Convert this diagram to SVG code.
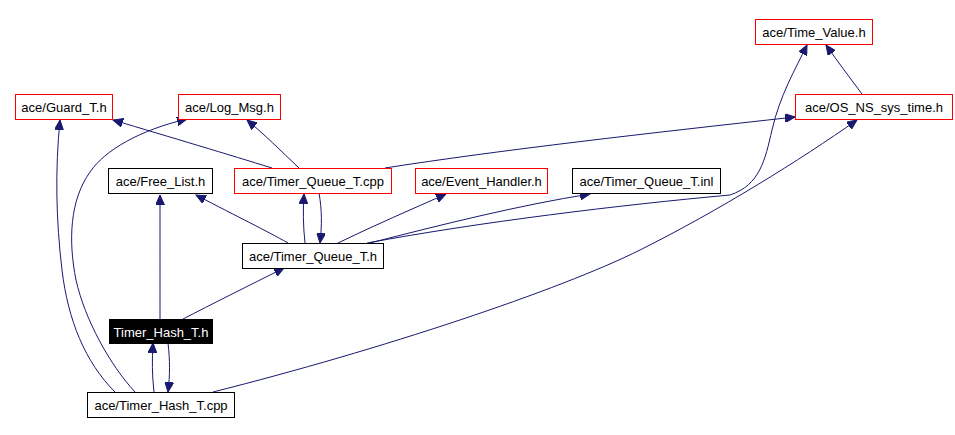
<svg xmlns="http://www.w3.org/2000/svg" width="955" height="435" viewBox="0 0 955 435">
<style>
.n rect{fill:#fff;stroke:#000;stroke-width:1}
.n.r rect{stroke:#f00}
.n text{font-family:"Liberation Sans",Arial,sans-serif;font-size:13px;text-anchor:middle;fill:#000}
.n.cur rect{fill:#000;stroke:#000}
.n.cur text{fill:#fff}
#edges path{fill:none;stroke:#191970;stroke-width:1;marker-end:url(#ah)}
</style>
<defs>
<marker id="ah" markerUnits="userSpaceOnUse" markerWidth="11" markerHeight="9" refX="10" refY="4.5" orient="auto" viewBox="0 0 11 9">
<path d="M0,0 L10,4.5 L0,9 Z" fill="#191970" stroke="#191970"/>
</marker>
</defs>
<rect width="955" height="435" fill="#fff"/>
<g id="edges">
<path d="M160,319 C160,280 160,240 160,195"/>
<path d="M183,319 C210,305 250,285 284,268"/>
<path d="M168,343 C170,360 170,375 168,392"/>
<path d="M154,392 C152,375 152,360 153,343"/>
<path d="M115,392 C85,362 68,320 62,270 C56,220 55,170 60,120"/>
<path d="M135,392 C110,365 85,320 76,280 C68,240 70,200 90,172 C105,150 140,130 187,119"/>
<path d="M213,392 C380,350 560,290 640,250 C720,210 800,160 857,120"/>
<path d="M288,243 C265,230 240,218 196,195"/>
<path d="M305,243 C303,225 303,210 304,194"/>
<path d="M319,193 C322,210 322,225 320,243"/>
<path d="M338,243 C375,225 410,210 446,194"/>
<path d="M370,243 C440,225 520,205 590,194"/>
<path d="M367,243 C480,222 620,205 730,195 C760,185 765,160 772,130 C780,95 795,70 807,45"/>
<path d="M272,168 C230,155 170,137 113,120"/>
<path d="M299,168 C280,150 265,135 247,120"/>
<path d="M385,168 C500,150 650,133 795,117"/>
<path d="M862,94 C850,78 838,62 826,45"/>
</g>
<g id="time_value" class="n r"><rect x="755.5" y="19.5" width="117" height="25"/><text x="814" y="37">ace/Time_Value.h</text></g>
<g id="os_ns_sys_time" class="n r"><rect x="795.5" y="94.5" width="157" height="25"/><text x="874" y="112">ace/OS_NS_sys_time.h</text></g>
<g id="guard_t" class="n r"><rect x="15.5" y="94.5" width="97" height="25"/><text x="64" y="112">ace/Guard_T.h</text></g>
<g id="log_msg" class="n r"><rect x="178.5" y="94.5" width="102" height="25"/><text x="229.5" y="112">ace/Log_Msg.h</text></g>
<g id="free_list" class="n"><rect x="108.5" y="168.5" width="104" height="25"/><text x="160.5" y="186">ace/Free_List.h</text></g>
<g id="timer_queue_cpp" class="n r"><rect x="234.5" y="168.5" width="157" height="25"/><text x="313" y="186">ace/Timer_Queue_T.cpp</text></g>
<g id="event_handler" class="n r"><rect x="415.5" y="168.5" width="132" height="25"/><text x="481.5" y="186">ace/Event_Handler.h</text></g>
<g id="timer_queue_inl" class="n"><rect x="572.5" y="168.5" width="148" height="25"/><text x="646.5" y="186">ace/Timer_Queue_T.inl</text></g>
<g id="timer_queue_h" class="n"><rect x="242.5" y="243.5" width="141" height="25"/><text x="313" y="261">ace/Timer_Queue_T.h</text></g>
<g id="timer_hash_h" class="n cur"><rect x="109.5" y="319.5" width="103" height="24"/><text x="161" y="336.5">Timer_Hash_T.h</text></g>
<g id="timer_hash_cpp" class="n"><rect x="87.5" y="392.5" width="147" height="25"/><text x="161" y="410">ace/Timer_Hash_T.cpp</text></g>
</svg>
